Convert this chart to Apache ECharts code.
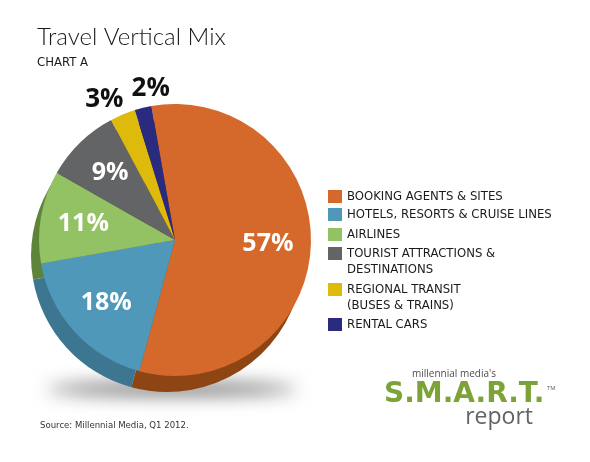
<!DOCTYPE html>
<html>
<head>
<meta charset="utf-8">
<script src="https://cdn.jsdelivr.net/npm/echarts@6/dist/echarts.min.js"></script>
<style>
html, body { margin: 0; padding: 0; background: #fff; }
#main { width: 590px; height: 462px; }
</style>
</head>
<body>
<div id="main"></div>
<script>
// data
var categories = ['BOOKING AGENTS & SITES', 'HOTELS, RESORTS & CRUISE LINES', 'AIRLINES',
	'TOURIST ATTRACTIONS &\nDESTINATIONS', 'REGIONAL TRANSIT\n(BUSES & TRAINS)', 'RENTAL CARS'];
var shares = [57, 18, 11, 9, 3, 2];
var faceColors = ['#D4692B', '#5098BA', '#93C264', '#636466', '#DEBA0C', '#2A2A7F'];
var sideColors = ['#8E4514', '#3D7690', '#5E843B', '#444547', '#9A8208', '#1C1C55'];

var cx = 175, cy = 240, R = 136;
var narrow = '"Liberation Sans Narrow", "DejaVu Sans Condensed", sans-serif';

function pieData(colors) {
	return categories.map(function (n, i) {
		return { name: n, value: shares[i], itemStyle: { color: colors[i] } };
	});
}

// label layer: same slices, transparent, labels at ~2/3 radius
var labelData = categories.map(function (n, i) {
	var small = shares[i] < 5;
	return {
		name: n, value: shares[i],
		label: small ? { position: 'outside', color: '#111', fontSize: 26 } : {}
	};
});
// small nudges for the two outside labels
var outsideNudge = { 4: [-8, -2], 5: [16, -6] };

// one legend per entry so icons line up with first text line
var legendTops = [188.5, 206.5, 226.5, 229.5, 265.5, 316.5];
var legends = categories.map(function (n, i) {
	return {
		data: [n],
		left: 328,
		top: legendTops[i],
		orient: 'vertical',
		padding: 0,
		itemWidth: 14,
		itemHeight: 13,
		icon: 'rect',
		selectedMode: false,
		formatter: function (name) {
			// empty first line keeps the icon level with the first text line
			return name.indexOf('\n') > -1 ? '\n' + name : name;
		},
		textStyle: {
			fontFamily: narrow,
			fontSize: 13,
			color: '#1a1a1a',
			lineHeight: 16
		}
	};
});

var myChart = echarts.init(document.getElementById('main'));

myChart.setOption({
	backgroundColor: '#fff',
	animation: false,
	title: {
		text: 'Travel Vertical Mix',
		subtext: 'CHART A',
		left: 37,
		top: 25,
		padding: 0,
		itemGap: 7,
		textStyle: { fontFamily: 'Lato, sans-serif', fontWeight: 300, fontSize: 24, color: '#1a1a1a' },
		subtextStyle: { fontFamily: narrow, fontSize: 13, color: '#1a1a1a' }
	},
	legend: legends,
	graphic: [
		{
			// soft floor shadow: the shape sits off-canvas, only its blurred shadow lands under the pie
			type: 'ellipse', z: 0, silent: true,
			shape: { cx: 172, cy: -300, rx: 125, ry: 6 },
			style: { fill: '#000', shadowBlur: 18, shadowOffsetY: 689, shadowColor: 'rgba(0,0,0,0.6)' }
		},
		{
			type: 'text', left: 40, top: 421, silent: true,
			style: { text: 'Source: Millennial Media, Q1 2012.', font: '9.5px ' + narrow, fill: '#333' }
		},
		{
			type: 'text', left: 412, top: 369, silent: true,
			style: { text: "millennial media's", font: '10px "Open Sans", sans-serif', fill: '#4d4d4d' }
		},
		{
			type: 'text', left: 384, top: 381, silent: true,
			style: { text: 'S.M.A.R.T.', font: 'bold 28px "DejaVu Sans", sans-serif', fill: '#7BA338' }
		},
		{
			type: 'text', left: 547, top: 385, silent: true,
			style: { text: 'TM', font: '6px "Open Sans", sans-serif', fill: '#666' }
		},
		{
			type: 'text', right: 57, top: 406, silent: true,
			style: { text: 'report', font: '23px "Open Sans", sans-serif', fill: '#636466' }
		}
	],
	series: [
		{
			// top face
			type: 'pie', z: 3, silent: true,
			center: [cx, cy], radius: R,
			startAngle: 100, clockwise: true,
			label: { show: false }, labelLine: { show: false },
			data: pieData(faceColors)
		},
		{
			// side / depth
			type: 'pie', z: 2, silent: true,
			center: [cx - 8, cy + 16], radius: R,
			startAngle: 100, clockwise: true,
			label: { show: false }, labelLine: { show: false },
			data: pieData(sideColors)
		},
		{
			// labels
			type: 'pie', z: 4, silent: true,
			center: [cx, cy], radius: [44, R],
			startAngle: 100, clockwise: true,
			avoidLabelOverlap: false,
			itemStyle: { color: 'rgba(0,0,0,0)' },
			label: {
				show: true, position: 'inside', formatter: '{c}%',
				color: '#fff', fontFamily: '"Open Sans", sans-serif', fontWeight: 'bold', fontSize: 25
			},
			labelLine: { show: false, length: 14, length2: 0 },
			labelLayout: function (p) {
				var n = outsideNudge[p.dataIndex];
				return n ? { align: 'center', dx: n[0], dy: n[1] } : {};
			},
			data: labelData
		}
	]
});
</script>
</body>
</html>
